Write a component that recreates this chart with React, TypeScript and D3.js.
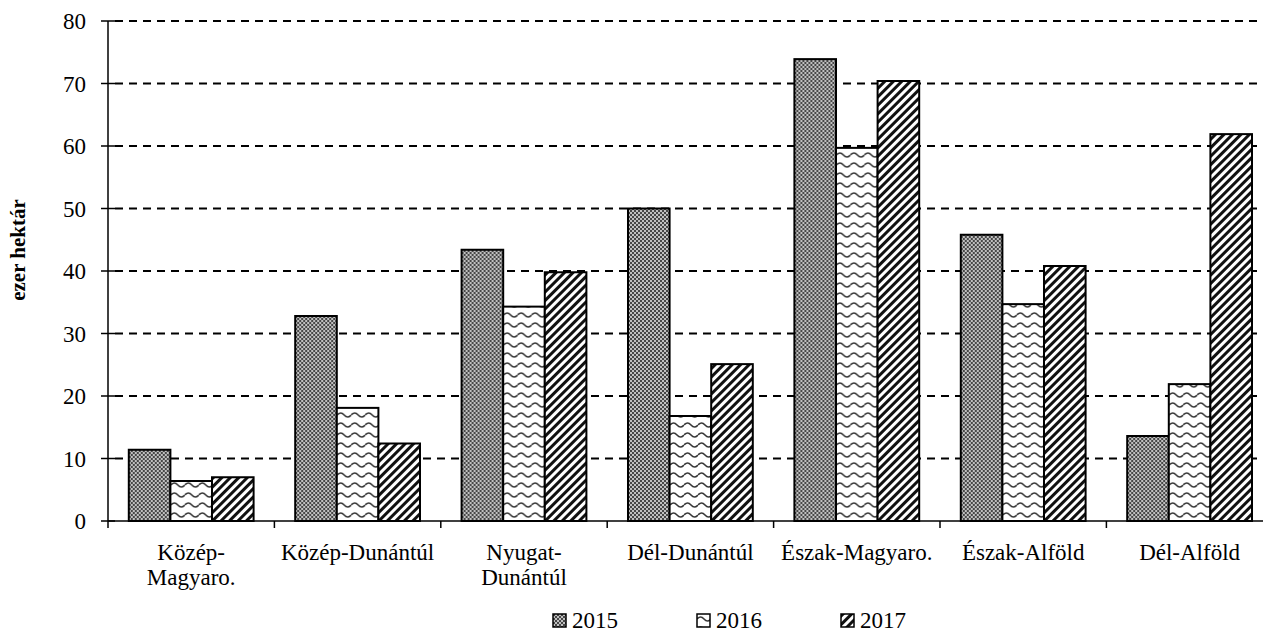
import * as d3 from "d3";

const regions = [
  ["Közép-", "Magyaro."],
  ["Közép-Dunántúl"],
  ["Nyugat-", "Dunántúl"],
  ["Dél-Dunántúl"],
  ["Észak-Magyaro."],
  ["Észak-Alföld"],
  ["Dél-Alföld"],
];
const years = ["2015", "2016", "2017"];
const values2015 = [11.4, 32.8, 43.4, 50.0, 73.9, 45.8, 13.6];
const values2016 = [6.4, 18.1, 34.3, 16.8, 59.7, 34.7, 21.9];
const values2017 = [7.0, 12.4, 39.8, 25.1, 70.4, 40.8, 61.9];
const yTicks = [0, 10, 20, 30, 40, 50, 60, 70, 80];

const series = [values2015, values2016, values2017];
const fills = ["url(#pat2015)", "url(#pat2016)", "url(#pat2017)"];

const width = 1263;
const height = 632;
const axisX = 108;
const catWidth = 166.4;
const font = "'Liberation Serif', 'Times New Roman', serif";

export default function App() {
  const names = regions.map((r) => r.join(" "));
  const x = d3
    .scaleBand()
    .domain(names)
    .range([axisX, axisX + catWidth * names.length])
    .paddingInner(0.25)
    .paddingOuter(0.125);
  const xs = d3.scaleBand().domain(years).range([0, x.bandwidth()]);
  const y = d3.scaleLinear().domain([0, 80]).range([521, 21]);

  // category boundaries for the ticks under the axis
  const step = x.step();
  const boundaries = d3.range(names.length + 1).map((i) => axisX + i * step);

  return (
    <svg
      width={width}
      height={height}
      style={{ position: "absolute", left: 0, top: 0, background: "#fff" }}
      fontFamily={font}
    >
      <defs>
        <pattern id="pat2015" patternUnits="userSpaceOnUse" width="4" height="4">
          <rect width="4" height="4" fill="#c0c0c0" />
          <rect x="0" y="0" width="2" height="2" fill="#474747" />
          <rect x="2" y="2" width="2" height="2" fill="#474747" />
        </pattern>
        <pattern id="pat2016" patternUnits="userSpaceOnUse" width="14" height="10">
          <rect width="14" height="10" fill="#fff" />
          <path
            d="M0,5 Q3.5,1 7,5 T14,5"
            fill="none"
            stroke="#3a3a3a"
            strokeWidth="1.6"
          />
        </pattern>
        <pattern
          id="pat2017"
          patternUnits="userSpaceOnUse"
          width="6"
          height="6"
          patternTransform="rotate(45)"
        >
          <rect width="6" height="6" fill="#fff" />
          <rect x="0" width="3" height="6" fill="#111" />
        </pattern>
      </defs>

      {/* dashed gridlines */}
      {yTicks
        .filter((t) => t > 0)
        .map((t) => (
          <line
            key={"g" + t}
            x1={axisX + 7}
            x2={width}
            y1={y(t)}
            y2={y(t)}
            stroke="#000"
            strokeWidth={2}
            strokeDasharray="8,6"
          />
        ))}

      {/* bars */}
      {names.map((name, i) => (
        <g key={name} transform={`translate(${x(name)},0)`}>
          {years.map((yr, j) => (
            <rect
              key={yr}
              x={xs(yr)}
              y={y(series[j][i])}
              width={xs.bandwidth()}
              height={y(0) - y(series[j][i])}
              fill={fills[j]}
              stroke="#000"
              strokeWidth={2}
            />
          ))}
        </g>
      ))}

      {/* y axis */}
      <line x1={axisX} x2={axisX} y1={y(80)} y2={y(0)} stroke="#000" strokeWidth={1.5} />
      {yTicks.map((t) => (
        <g key={"t" + t}>
          <line x1={axisX - 7} x2={axisX + 7} y1={y(t)} y2={y(t)} stroke="#000" strokeWidth={1.5} />
          <text x={86} y={y(t)} dy="0.35em" textAnchor="end" fontSize={23}>
            {t}
          </text>
        </g>
      ))}

      {/* x axis */}
      <line x1={axisX} x2={width} y1={y(0)} y2={y(0)} stroke="#000" strokeWidth={1.5} />
      {boundaries.map((b, i) => (
        <line key={"b" + i} x1={b} x2={b} y1={y(0)} y2={y(0) + 7} stroke="#000" strokeWidth={1.5} />
      ))}
      {regions.map((lines, i) => (
        <text
          key={"l" + i}
          x={(x(names[i]) ?? 0) + x.bandwidth() / 2}
          y={560}
          textAnchor="middle"
          fontSize={23}
        >
          {lines.map((ln, k) => (
            <tspan key={k} x={(x(names[i]) ?? 0) + x.bandwidth() / 2} dy={k === 0 ? 0 : 25}>
              {ln}
            </tspan>
          ))}
        </text>
      ))}

      {/* y title */}
      <text
        transform={`translate(25,250) rotate(-90)`}
        textAnchor="middle"
        fontSize={21}
        fontWeight="bold"
      >
        ezer hektár
      </text>

      {/* legend */}
      {years.map((yr, j) => (
        <g key={"lg" + yr} transform={`translate(${553 + j * 144},614)`}>
          <rect width={13} height={13} fill={fills[j]} stroke="#000" strokeWidth={1.5} />
          <text x={19} y={14} fontSize={23}>
            {yr}
          </text>
        </g>
      ))}
    </svg>
  );
}
